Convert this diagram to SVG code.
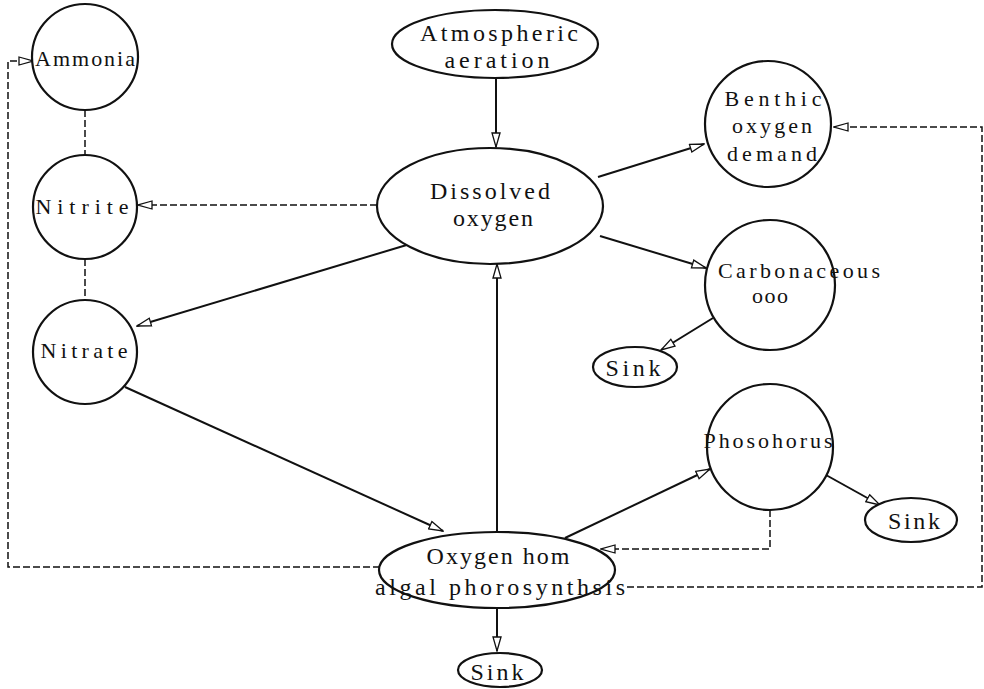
<svg xmlns="http://www.w3.org/2000/svg" width="984" height="689" viewBox="0 0 984 689">
<style>
.node{fill:#fff;stroke:#111;stroke-width:2.2}
.t{font-family:"Liberation Serif","DejaVu Serif",serif;font-size:22px;fill:#111;text-anchor:middle}
.L{font-size:24px}
.S{font-size:24px}
.c{fill:none;stroke:#111;stroke-width:2}
.d{fill:none;stroke:#111;stroke-width:1.5;stroke-dasharray:7 3}
</style>
<defs>
<marker id="ah" markerUnits="userSpaceOnUse" markerWidth="16" markerHeight="10" refX="15" refY="5" orient="auto">
<path d="M1,1 L15,5 L1,9 Z" fill="#fff" stroke="#111" stroke-width="1.3"/>
</marker>
</defs>
<g id="connectors">
<path class="d" d="M85,110 L85,155"/>
<path class="d" d="M85,259 L85,300"/>
<path class="c" d="M496,78 L496,147" marker-end="url(#ah)"/>
<path class="d" d="M377,205 L138,205" marker-end="url(#ah)"/>
<path class="c" d="M410,244 L137,326" marker-end="url(#ah)"/>
<path class="c" d="M598,177 L704,144" marker-end="url(#ah)"/>
<path class="c" d="M600,236 L706,268" marker-end="url(#ah)"/>
<path class="c" d="M713,318 L661,350" marker-end="url(#ah)"/>
<path class="c" d="M125,387 L443,531" marker-end="url(#ah)"/>
<path class="c" d="M497,532 L497,264" marker-end="url(#ah)"/>
<path class="c" d="M565,538 L710,469" marker-end="url(#ah)"/>
<path class="c" d="M826,475 L880,505" marker-end="url(#ah)"/>
<path class="c" d="M497,608 L497,651" marker-end="url(#ah)"/>
<path class="d" d="M380,567 L8,567 L8,61 L33,61" marker-end="url(#ah)"/>
<path class="d" d="M770,510 L770,549 L601,549" marker-end="url(#ah)"/>
<path class="d" d="M627,587 L982,587 L982,127 L834,127" marker-end="url(#ah)"/>
</g>
<g id="ammonia"><circle class="node" cx="85" cy="57" r="53"/><text class="t" x="85" y="66" textLength="100" lengthAdjust="spacing">Ammonia</text></g>
<g id="nitrite"><circle class="node" cx="85" cy="207" r="52"/><text class="t" x="82" y="214" textLength="93" lengthAdjust="spacing">Nitrite</text></g>
<g id="nitrate"><circle class="node" cx="85" cy="352" r="52"/><text class="t" x="84" y="358" textLength="87" lengthAdjust="spacing">Nitrate</text></g>
<g id="atmospheric"><ellipse class="node" cx="495" cy="44" rx="103" ry="34"/><text class="t L" x="499" y="41" textLength="158" lengthAdjust="spacing">Atmospheric</text><text class="t L" x="497" y="68" textLength="105" lengthAdjust="spacing">aeration</text></g>
<g id="dissolved"><ellipse class="node" cx="490" cy="206" rx="113" ry="58"/><text class="t L" x="490" y="199" textLength="120" lengthAdjust="spacing">Dissolved</text><text class="t L" x="493" y="226" textLength="80" lengthAdjust="spacing">oxygen</text></g>
<g id="benthic"><circle class="node" cx="768" cy="124" r="63"/><text class="t" x="773" y="106" textLength="97" lengthAdjust="spacing">Benthic</text><text class="t" x="772" y="133" textLength="80" lengthAdjust="spacing">oxygen</text><text class="t" x="772" y="161" textLength="90" lengthAdjust="spacing">demand</text></g>
<g id="carbonaceous"><circle class="node" cx="770" cy="285" r="65"/><text class="t" x="799" y="278" textLength="162" lengthAdjust="spacing">Carbonaceous</text><text class="t" x="770" y="303" textLength="36" lengthAdjust="spacing">ooo</text></g>
<g id="sink1"><ellipse class="node" cx="635" cy="367" rx="42" ry="20"/><text class="t S" x="633" y="376" textLength="55" lengthAdjust="spacing">Sink</text></g>
<g id="phosphorus"><circle class="node" cx="770" cy="447" r="63"/><text class="t" x="768" y="448" textLength="129" lengthAdjust="spacing">Phosohorus</text></g>
<g id="sink2"><ellipse class="node" cx="911" cy="520" rx="46" ry="22"/><text class="t S" x="914" y="529" textLength="52" lengthAdjust="spacing">Sink</text></g>
<g id="oxygen-algal"><ellipse class="node" cx="497" cy="570" rx="118" ry="38"/><text class="t L" x="498" y="564" textLength="143" lengthAdjust="spacing">Oxygen hom</text><text class="t L" x="500" y="595" textLength="250" lengthAdjust="spacing">algal phorosynthsis</text></g>
<g id="sink3"><ellipse class="node" cx="500" cy="670" rx="42" ry="17"/><text class="t S" x="497" y="680" textLength="53" lengthAdjust="spacing">Sink</text></g>
</svg>
